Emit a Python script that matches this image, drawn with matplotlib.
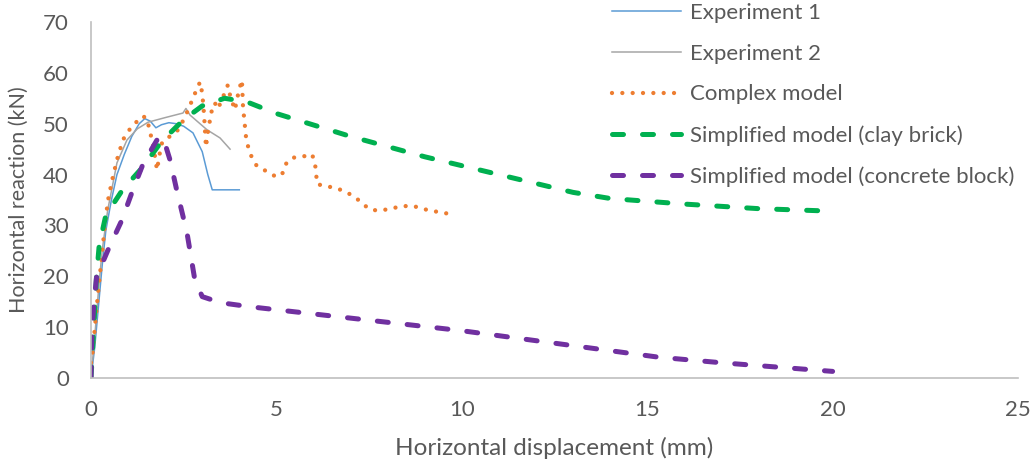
import matplotlib
matplotlib.use("Agg")
import matplotlib.pyplot as plt

# Data (displacement in mm, reaction in kN)
exp1_x = [0, 0.1, 0.2, 0.3, 0.4, 0.55, 0.7, 0.9, 1.1, 1.3, 1.45, 1.6, 1.75, 1.9, 2.1, 2.3, 2.5, 2.75, 3.0, 3.15, 3.27, 3.6, 4.0]
exp1_y = [0, 6, 14, 22, 29, 35, 40, 44, 47.5, 50, 51, 50.5, 49.2, 49.8, 50.2, 50, 49.5, 48.2, 44.5, 40, 37, 37, 37]

exp2_x = [0, 0.1, 0.2, 0.3, 0.45, 0.7, 0.97, 1.25, 1.54, 2.0, 2.48, 2.56, 2.67, 3.13, 3.48, 3.75]
exp2_y = [0, 8, 17, 25, 33, 42.3, 46.8, 49, 50.3, 51.2, 52.1, 53.0, 51.7, 48.8, 47.2, 45.0]

complex_x = [0, 0.03, 0.19, 0.29, 0.38, 0.46, 0.57, 0.70, 0.86, 1.0, 1.19, 1.40, 1.52, 1.57, 1.64,
             1.70, 1.78, 1.86, 1.92, 2.18, 2.37, 2.62, 2.72, 2.83, 2.94, 3.0, 3.05, 3.10, 3.16,
             3.26, 3.34, 3.42, 3.53, 3.69, 3.75, 3.88, 3.99, 4.07, 4.1, 4.18, 4.24, 4.33, 4.47,
             4.72, 4.96, 5.15, 5.23, 5.42, 5.69, 5.96, 6.04, 6.1, 6.36, 6.63, 6.9, 7.15, 7.36,
             7.58, 7.87, 8.14, 8.41, 8.7, 8.98, 9.25, 9.55, 9.85]
complex_y = [3, 4, 16.7, 23.8, 30.5, 35, 38.9, 42.9, 46.8, 48.5, 50.1, 51.5, 50.9, 48.9, 47.0,
             44.8, 40.9, 44.4, 46.4, 47.8, 48.9, 52.7, 54.5, 56.4, 58.2, 56, 51.7, 45.4, 48.8,
             52.7, 54.1, 52.9, 54.7, 57.6, 55.6, 52.7, 56.6, 58.6, 53.3, 47.4, 45.4, 43.5, 41.7,
             40.7, 39.7, 39.9, 41.9, 43.3, 43.5, 44.0, 42.3, 38.1, 37.7, 37.3, 36.5, 35.4, 34.0,
             33.0, 33.0, 33.4, 33.8, 33.8, 33.2, 32.8, 32.4, 32.2]

clay_x = [0, 0.15, 0.22, 0.4, 0.85, 1.4, 1.9, 2.5, 3.0, 3.6, 4.2, 5.0, 7.0, 9.0, 11.0, 13.0, 14.0, 16.0, 18.0, 20.0]
clay_y = [0, 20, 26, 32, 37, 41.5, 46.5, 50.8, 53.5, 55, 54.3, 52, 47.5, 43.5, 40, 36.5, 35.3, 34.2, 33.3, 32.8]

block_x = [0, 0.02, 0.07, 0.15, 0.46, 0.83, 1.13, 1.41, 1.78, 1.94, 2.13, 2.31, 2.59, 2.8, 3.0, 3.5, 4.3, 10.0, 15.3, 17.0, 20.0]
block_y = [0, 7.5, 14, 19.9, 25.2, 31, 37, 42.2, 46.8, 47.4, 42.9, 37, 28.5, 19.3, 16, 14.8, 14, 9.3, 4.1, 3.0, 1.3]

labels = ["Experiment 1", "Experiment 2", "Complex model",
          "Simplified model (clay brick)", "Simplified model (concrete block)"]

plt.rcParams['font.family'] = ['Lato', 'DejaVu Sans']
text_col = '#595959'

fig = plt.figure(figsize=(10.34, 4.63), dpi=100)
ax = fig.add_axes([91 / 1034, 1 - 378 / 463, 927 / 1034, 356 / 463])

ax.plot(exp1_x, exp1_y, color='#5B9BD5', lw=1.1, label=labels[0])
ax.plot(exp2_x, exp2_y, color='#A5A5A5', lw=1.1, label=labels[1])
ax.plot(complex_x, complex_y, color='#ED7D31', lw=3.1, linestyle=(0, (0.001, 2.4)),
        dash_capstyle='round', label=labels[2])
ax.plot(clay_x, clay_y, color='#00B050', lw=3.6, linestyle=(0, (2.2, 3.8)),
        dash_capstyle='round', label=labels[3])
ax.plot(block_x, block_y, color='#7030A0', lw=3.6, linestyle=(0, (2.2, 3.8)),
        dash_capstyle='round', label=labels[4])

ax.set_xlim(0, 25)
ax.set_ylim(0, 70)
ax.set_xticks(range(0, 26, 5))
ax.set_yticks(range(0, 71, 10))
ax.tick_params(length=0, labelsize=16, labelcolor=text_col, pad=16)
for s in ['top', 'right']:
    ax.spines[s].set_visible(False)
for s in ['left', 'bottom']:
    ax.spines[s].set_color('#BFBFBF')
    ax.spines[s].set_linewidth(1.2)

ax.set_xlabel("Horizontal displacement (mm)", fontsize=17.5, color=text_col, labelpad=12)
ax.set_ylabel("Horizontal reaction (kN)", fontsize=15.5, color=text_col, labelpad=10)

fig.legend(loc='upper left', bbox_to_anchor=(612 / 1034, 1 - 3 / 463), frameon=False,
           fontsize=16, labelcolor=text_col, handlelength=3.1, handletextpad=0.4,
           labelspacing=0.93, borderpad=0, borderaxespad=0)

fig.savefig("out.png", dpi=100)
